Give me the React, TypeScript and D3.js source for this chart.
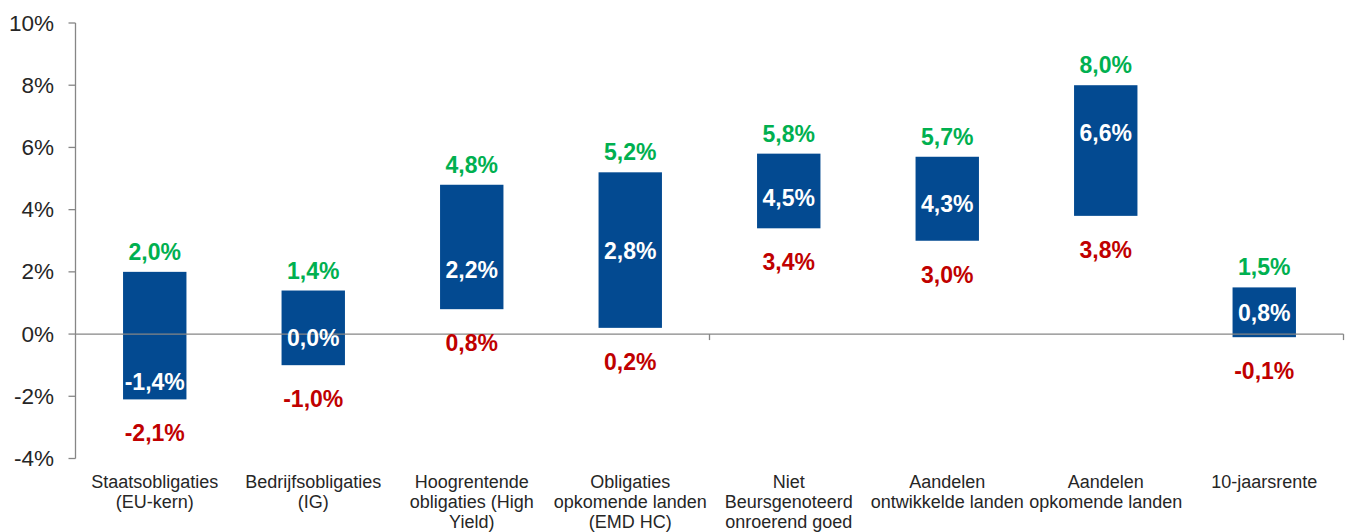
import React from "react";
import * as d3 from "d3";

const categories = [
  "Staatsobligaties\n(EU-kern)",
  "Bedrijfsobligaties\n(IG)",
  "Hoogrentende\nobligaties (High\nYield)",
  "Obligaties\nopkomende landen\n(EMD HC)",
  "Niet\nBeursgenoteerd\nonroerend goed",
  "Aandelen\nontwikkelde landen",
  "Aandelen\nopkomende landen",
  "10-jaarsrente",
];
const highValues = [2.0, 1.4, 4.8, 5.2, 5.8, 5.7, 8.0, 1.5];
const lowValues = [-2.1, -1.0, 0.8, 0.2, 3.4, 3.0, 3.8, -0.1];
const midValues = [-1.4, 0.0, 2.2, 2.8, 4.5, 4.3, 6.6, 0.8];
const yTicks = [-4, -2, 0, 2, 4, 6, 8, 10];

const W = 1350;
const H = 532;
const FONT = "'Liberation Sans', Arial, sans-serif";
const BAR = "#034a91";
const GREEN = "#00b050";
const RED = "#c00000";
const AXIS = "#868686";
const TEXT = "#262626";

const fmt = (v: number) => v.toFixed(1).replace(".", ",") + "%";

export default function App() {
  const x = d3
    .scaleBand<number>()
    .domain(categories.map((_, i) => i))
    .range([75.5, 1343.5])
    .padding(0);
  const y = d3.scaleLinear().domain([-4, 10]).range([458.5, 23]);
  const bw = x.bandwidth() * 0.4;
  const axisX = 75.5;
  const y0 = y(0);

  return (
    <svg
      width={W}
      height={H}
      style={{ position: "absolute", left: 0, top: 0, background: "#fff" }}
      fontFamily={FONT}
    >
      {/* y axis */}
      <line x1={axisX} x2={axisX} y1={y(10)} y2={y(-4)} stroke={AXIS} strokeWidth={1.3} />
      {yTicks.map((t) => (
        <g key={t}>
          <line x1={axisX - 7} x2={axisX} y1={y(t)} y2={y(t)} stroke={AXIS} strokeWidth={1.3} />
          <text
            x={54}
            y={y(t)}
            textAnchor="end"
            dominantBaseline="central"
            fontSize={22.5}
            fill={TEXT}
          >
            {t + "%"}
          </text>
        </g>
      ))}
      {/* bars */}
      {categories.map((_, i) => {
        const cx = (x(i) as number) + x.bandwidth() / 2;
        return (
          <rect
            key={"b" + i}
            x={cx - bw / 2}
            y={y(highValues[i])}
            width={bw}
            height={y(lowValues[i]) - y(highValues[i])}
            fill={BAR}
          />
        );
      })}
      {/* zero line */}
      <line x1={axisX} x2={1343.5} y1={y0} y2={y0} stroke={AXIS} strokeWidth={1.3} />
      {[4, 8].map((k) => {
        const bx = axisX + k * x.bandwidth();
        return <line key={"t" + k} x1={bx} x2={bx} y1={y0} y2={y0 + 6} stroke={AXIS} strokeWidth={1.3} />;
      })}
      {/* labels */}
      {categories.map((c, i) => {
        const cx = (x(i) as number) + x.bandwidth() / 2;
        return (
          <g key={"l" + i} fontWeight="bold" fontSize={23} textAnchor="middle">
            <text x={cx} y={y(highValues[i]) - 20} dominantBaseline="central" fill={GREEN}>
              {fmt(highValues[i])}
            </text>
            <text x={cx} y={y(midValues[i]) + 4} dominantBaseline="central" fill="#fff">
              {fmt(midValues[i])}
            </text>
            <text x={cx} y={y(lowValues[i]) + 34} dominantBaseline="central" fill={RED}>
              {fmt(lowValues[i])}
            </text>
          </g>
        );
      })}
      {/* category labels */}
      {categories.map((c, i) => {
        const cx = (x(i) as number) + x.bandwidth() / 2;
        return (
          <text key={"c" + i} x={cx} y={488} textAnchor="middle" fontSize={18} fill={TEXT}>
            {c.split("\n").map((line, j) => (
              <tspan key={j} x={cx} dy={j === 0 ? 0 : 20}>
                {line}
              </tspan>
            ))}
          </text>
        );
      })}
    </svg>
  );
}
